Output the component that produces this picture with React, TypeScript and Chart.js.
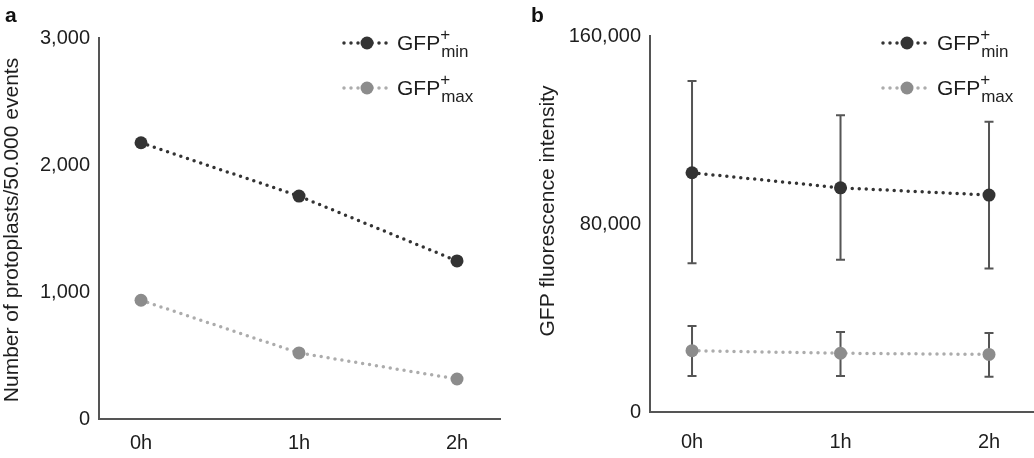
import React, { useEffect, useRef } from "react";
import { Chart, registerables } from "chart.js";

Chart.register(...registerables);

// ---------- data ----------
const timeLabels = ["0h", "1h", "2h"];
const timeValues = [0, 1, 2];

// panel a: number of protoplasts / 50.000 events
const countMin = [2175, 1755, 1245];
const countMax = [935, 520, 315];
const countTicks = [0, 1000, 2000, 3000];

// panel b: GFP fluorescence intensity (mean with error range)
const intensityMin = [101800, 95400, 92300];
const intensityMinLow = [63300, 64800, 61100];
const intensityMinHigh = [140900, 126300, 123500];
const intensityMax = [26100, 25000, 24500];
const intensityMaxLow = [15300, 15300, 15000];
const intensityMaxHigh = [36600, 34000, 33600];
const intensityTicks = [0, 80000, 160000];

const seriesBase = "GFP";
const seriesSup = "+";
const seriesSubs = ["min", "max"];

const titleA = "Number of protoplasts/50.000 events";
const titleB = "GFP fluorescence intensity";

// ---------- styles ----------
const FAMILY = '"Liberation Sans", Arial, Helvetica, sans-serif';
const TEXT = "#1e1e1e";
const AXIS = "#555555";
const DARK = "#333333";
const LIGHT_POINT = "#8c8c8c";
const LIGHT_LINE = "#acacac";
const ERR = "#555555";

function lineDataset(label: string, values: number[], lineColor: string, pointColor: string) {
  return {
    label,
    data: timeValues.map((x, i) => ({ x, y: values[i] })),
    borderColor: lineColor,
    backgroundColor: pointColor,
    pointBackgroundColor: pointColor,
    pointBorderColor: pointColor,
    pointBorderWidth: 0,
    pointRadius: 6.5,
    borderWidth: 3.5,
    borderDash: [0, 7],
    borderCapStyle: "round" as const,
    tension: 0,
    fill: false,
  };
}

function decorPlugin(opts: {
  letter: string;
  letterX: number;
  title: string;
  titleX: number;
  titleY: number;
  legendX0: number;
  legendX1: number;
  legendCx: number;
  legendTx: number;
  legendY: number[];
}) {
  return {
    id: "decor-" + opts.letter,
    afterDraw(chart: any) {
      const ctx = chart.ctx as CanvasRenderingContext2D;
      ctx.save();
      // panel letter
      ctx.fillStyle = "#111";
      ctx.font = `bold 21px ${FAMILY}`;
      ctx.textAlign = "left";
      ctx.textBaseline = "alphabetic";
      ctx.fillText(opts.letter, opts.letterX, 22);
      // y title
      ctx.save();
      ctx.translate(opts.titleX, opts.titleY);
      ctx.rotate(-Math.PI / 2);
      ctx.fillStyle = TEXT;
      ctx.font = `21px ${FAMILY}`;
      ctx.textAlign = "center";
      ctx.textBaseline = "middle";
      ctx.fillText(opts.title, 0, 0);
      ctx.restore();
      // legend
      chart.data.datasets.forEach((ds: any, i: number) => {
        const y = opts.legendY[i];
        ctx.save();
        ctx.strokeStyle = ds.borderColor;
        ctx.lineWidth = 3.5;
        ctx.lineCap = "round";
        ctx.setLineDash([0, 7]);
        ctx.beginPath();
        ctx.moveTo(opts.legendX0, y);
        ctx.lineTo(opts.legendX1, y);
        ctx.stroke();
        ctx.setLineDash([]);
        ctx.fillStyle = ds.pointBackgroundColor;
        ctx.beginPath();
        ctx.arc(opts.legendCx, y, 6.5, 0, Math.PI * 2);
        ctx.fill();
        ctx.fillStyle = TEXT;
        ctx.textAlign = "left";
        ctx.textBaseline = "alphabetic";
        ctx.font = `21px ${FAMILY}`;
        ctx.fillText(seriesBase, opts.legendTx, y + 7);
        const w = ctx.measureText(seriesBase).width;
        ctx.font = `17px ${FAMILY}`;
        ctx.fillText(seriesSup, opts.legendTx + w, y - 3);
        ctx.fillText(seriesSubs[i], opts.legendTx + w + 1, y + 14);
        ctx.restore();
      });
      ctx.restore();
    },
  };
}

function errorBarPlugin(lows: number[][], highs: number[][]) {
  return {
    id: "errorbars",
    beforeDatasetsDraw(chart: any) {
      const ctx = chart.ctx as CanvasRenderingContext2D;
      const xs = chart.scales.x;
      const ys = chart.scales.y;
      ctx.save();
      ctx.strokeStyle = ERR;
      ctx.lineWidth = 2;
      lows.forEach((low, i) => {
        low.forEach((lo, j) => {
          const x = xs.getPixelForValue(timeValues[j]);
          const y1 = ys.getPixelForValue(lo);
          const y2 = ys.getPixelForValue(highs[i][j]);
          ctx.beginPath();
          ctx.moveTo(x, y1);
          ctx.lineTo(x, y2);
          ctx.moveTo(x - 4.5, y1);
          ctx.lineTo(x + 4.5, y1);
          ctx.moveTo(x - 4.5, y2);
          ctx.lineTo(x + 4.5, y2);
          ctx.stroke();
        });
      });
      ctx.restore();
    },
  };
}

function scalesFor(
  xMin: number,
  xMax: number,
  xHeight: number,
  xPad: number,
  yMax: number,
  yTicks: number[],
  yWidth: number
) {
  return {
    x: {
      type: "linear" as const,
      min: xMin,
      max: xMax,
      afterBuildTicks: (s: any) => {
        s.ticks = timeValues.map((v) => ({ value: v }));
      },
      afterFit: (s: any) => {
        s.height = xHeight;
        s.paddingLeft = 0;
        s.paddingRight = 0;
      },
      grid: { display: false, drawTicks: false },
      border: { display: true, color: AXIS, width: 2 },
      ticks: {
        color: TEXT,
        font: { family: FAMILY, size: 20 },
        padding: xPad,
        maxRotation: 0,
        callback: (v: any) => timeLabels[timeValues.indexOf(Number(v))] ?? "",
      },
    },
    y: {
      min: 0,
      max: yMax,
      afterBuildTicks: (s: any) => {
        s.ticks = yTicks.map((v) => ({ value: v }));
      },
      afterFit: (s: any) => {
        s.width = yWidth;
      },
      grid: { display: false, drawTicks: false },
      border: { display: true, color: AXIS, width: 2 },
      ticks: {
        color: TEXT,
        font: { family: FAMILY, size: 20 },
        padding: 9,
        callback: (v: any) => Number(v).toLocaleString("en-US"),
      },
    },
  };
}

export default function App() {
  const refA = useRef<HTMLCanvasElement | null>(null);
  const refB = useRef<HTMLCanvasElement | null>(null);

  useEffect(() => {
    const chartA = new Chart(refA.current as HTMLCanvasElement, {
      type: "line",
      data: {
        datasets: [
          lineDataset("GFP+ min", countMin, DARK, DARK),
          lineDataset("GFP+ max", countMax, LIGHT_LINE, LIGHT_POINT),
        ],
      },
      options: {
        responsive: false,
        animation: false,
        events: [],
        layout: { autoPadding: false, padding: { left: 0, right: 17, top: 38, bottom: 0 } },
        plugins: { legend: { display: false }, tooltip: { enabled: false } },
        scales: scalesFor(-0.266, 2.272, 39, 12, 3000, countTicks, 99) as any,
      },
      plugins: [
        decorPlugin({
          letter: "a",
          letterX: 5,
          title: titleA,
          titleX: 12,
          titleY: 230,
          legendX0: 344,
          legendX1: 388,
          legendCx: 367,
          legendTx: 397,
          legendY: [43, 88],
        }),
      ],
    } as any);

    const chartB = new Chart(refB.current as HTMLCanvasElement, {
      type: "line",
      data: {
        datasets: [
          lineDataset("GFP+ min", intensityMin, DARK, DARK),
          lineDataset("GFP+ max", intensityMax, LIGHT_LINE, LIGHT_POINT),
        ],
      },
      options: {
        responsive: false,
        animation: false,
        events: [],
        layout: { autoPadding: false, padding: { left: 19, right: 0, top: 36, bottom: 0 } },
        plugins: { legend: { display: false }, tooltip: { enabled: false } },
        scales: scalesFor(-0.283, 2.303, 46, 18, 160000, intensityTicks, 114) as any,
      },
      plugins: [
        errorBarPlugin([intensityMinLow, intensityMaxLow], [intensityMinHigh, intensityMaxHigh]),
        decorPlugin({
          letter: "b",
          letterX: 14,
          title: titleB,
          titleX: 31,
          titleY: 211,
          legendX0: 366,
          legendX1: 410,
          legendCx: 390,
          legendTx: 420,
          legendY: [43, 88],
        }),
      ],
    } as any);

    return () => {
      chartA.destroy();
      chartB.destroy();
    };
  }, []);

  return (
    <div style={{ position: "fixed", left: 0, top: 0, width: 1034, height: 458, background: "#fff" }}>
      <canvas
        ref={refA}
        width={517}
        height={458}
        style={{ position: "absolute", left: 0, top: 0, width: 517, height: 458 }}
      />
      <canvas
        ref={refB}
        width={517}
        height={458}
        style={{ position: "absolute", left: 517, top: 0, width: 517, height: 458 }}
      />
    </div>
  );
}
